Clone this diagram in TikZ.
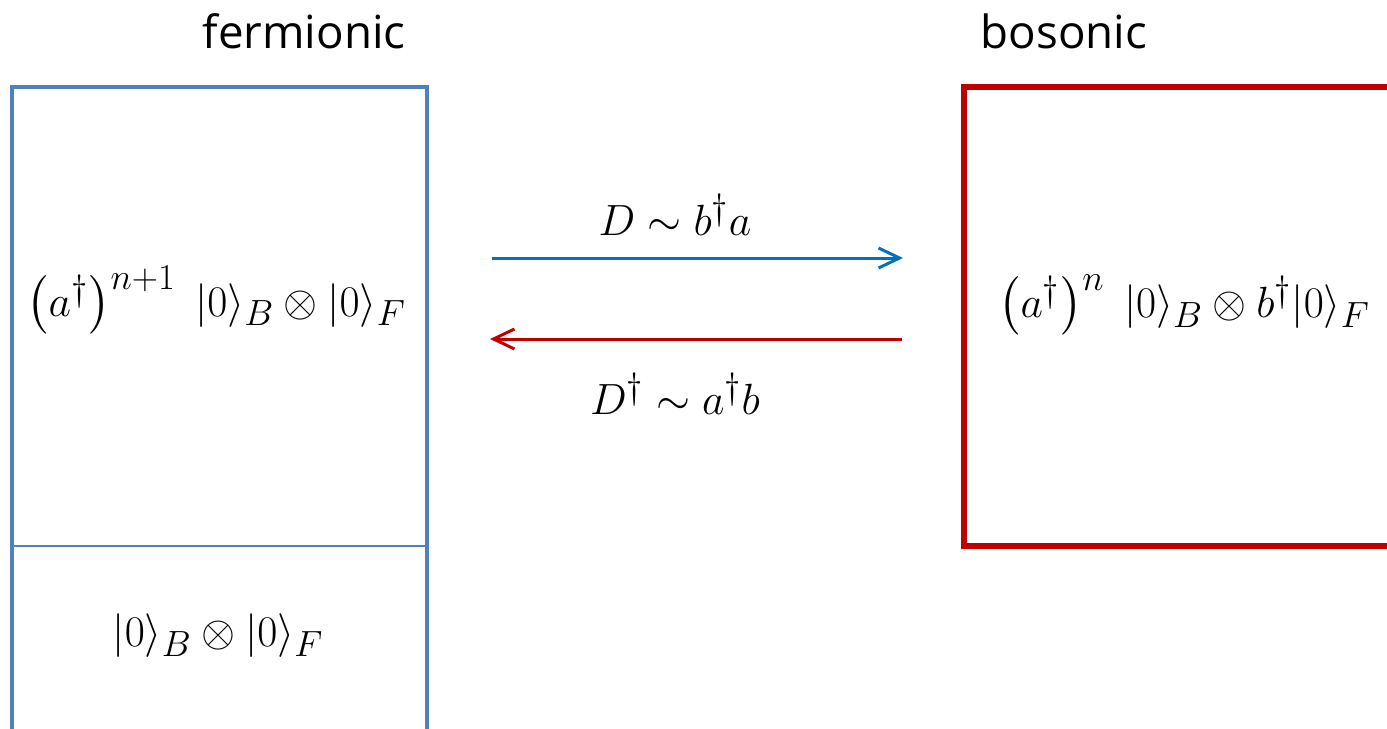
\documentclass[tikz,border=0pt]{standalone}
\usepackage{fontspec}
\usepackage{amsmath}
\usepackage{amssymb}
\usetikzlibrary{arrows.meta,positioning}
\newfontfamily\titlefont{Open Sans}
\definecolor{fermblue}{HTML}{4F81BD}
\definecolor{arrblue}{HTML}{0070C0}
\definecolor{bosred}{HTML}{C00000}

\begin{document}
\begin{tikzpicture}[
    x=0.02cm, y=-0.02cm,
    title/.style={font=\titlefont\fontsize{26}{30}\selectfont, anchor=base},
    state/.style={font=\fontsize{27.8}{32}\selectfont},
    arrow/.style={-{Straight Barb[length=0.42cm, width=0.4cm]}, line width=1.7pt}
  ]
    \useasboundingbox (0,0) rectangle (1387,728);
    \clip (0,0) rectangle (1387,728);
    % boxes
    \coordinate (fnw) at (12,87);
    \coordinate (fse) at (427,760);
    \draw[fermblue, line width=2.6pt] (fnw) rectangle (fse);
    \draw[fermblue, line width=0.8pt] (12,546) -- (427,546);
    \coordinate (bnw) at (964,87);
    \coordinate (bse) at (1400,546);
    \draw[bosred, line width=2.9pt] (bnw) rectangle (bse);
    % titles
    \node[title] (fermtitle) at (304,48) {fermionic};
    \node[title] (bostitle) at (1064,48) {bosonic};
    % states
    \node[state] (excited) at (216,300) {$\left(a^\dagger\right)^{n+1}\;|0\rangle_B\otimes|0\rangle_F$};
    \node[state] (ground) at (218,636) {$|0\rangle_B\otimes|0\rangle_F$};
    \node[state] (bosstate) at (1184,305) {$\left(a^\dagger\right)^{n}\;|0\rangle_B\otimes b^\dagger|0\rangle_F$};
    % arrows
    \coordinate (dstart) at (492,258);
    \coordinate (dend) at (903,258);
    \coordinate (ustart) at (902,339);
    \coordinate (uend) at (490,339);
    \draw[arrow, arrblue] (dstart) -- (dend);
    \draw[arrow, bosred] (ustart) -- (uend);
    \node[state] (dlabel) at (675,215) {$D\sim b^\dagger a$};
    \node[state] (ulabel) at (675,394) {$D^\dagger\sim a^\dagger b$};
  \end{tikzpicture}
\end{document}
